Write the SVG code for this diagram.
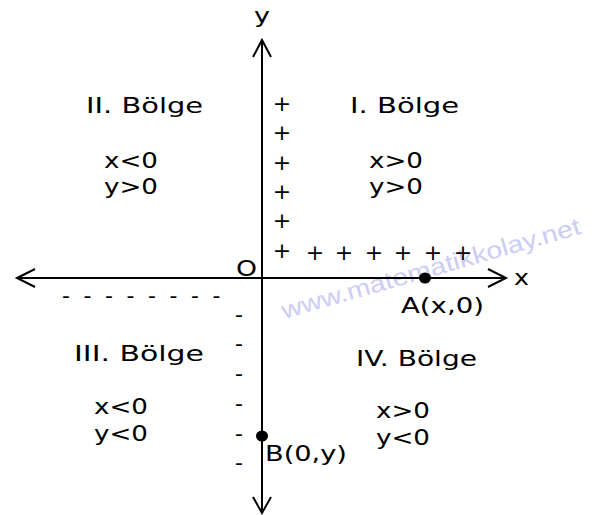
<svg xmlns="http://www.w3.org/2000/svg" width="606" height="515" viewBox="0 0 606 515">
<style>
.t{font-family:"DejaVu Sans",Verdana,sans-serif;font-size:21px;fill:#000}
.s{font-family:"DejaVu Sans",Verdana,sans-serif;font-size:22px;fill:#000;text-anchor:middle}
.ax{stroke:#000;stroke-width:2;fill:none}
.wm{font-family:"Liberation Sans",Arial,sans-serif;font-size:24px;fill:#c4c4f4;opacity:0.85}
</style>
<rect width="606" height="515" fill="#fff"/>
<g id="watermark">
<text class="wm" transform="translate(284,319) rotate(-16)" textLength="310" lengthAdjust="spacingAndGlyphs">www.matematikkolay.net</text>
</g>
<g id="axes">
<line class="ax" x1="262" y1="40" x2="262" y2="513"/>
<polyline class="ax" points="253,57 262,40 271,57"/>
<polyline class="ax" points="253,497 262,513 271,497"/>
<line class="ax" x1="17" y1="278" x2="506" y2="278"/>
<polyline class="ax" points="35,269 17,278 35,287"/>
<polyline class="ax" points="488,269 506,278 488,287"/>
</g>
<g id="axis-labels">
<text class="t" x="262" y="23" text-anchor="middle" textLength="16" lengthAdjust="spacingAndGlyphs">y</text>
<text class="t" x="514" y="285" textLength="15" lengthAdjust="spacingAndGlyphs">x</text>
<text class="t" x="236" y="276" textLength="21" lengthAdjust="spacingAndGlyphs">O</text>
</g>
<g id="q2">
<text class="t" x="86" y="113" textLength="117" lengthAdjust="spacingAndGlyphs">II. Bölge</text>
<text class="t" x="104" y="168" textLength="54" lengthAdjust="spacingAndGlyphs">x&lt;0</text>
<text class="t" x="104" y="194" textLength="54" lengthAdjust="spacingAndGlyphs">y&gt;0</text>
</g>
<g id="q1">
<text class="t" x="350" y="113" textLength="109" lengthAdjust="spacingAndGlyphs">I. Bölge</text>
<text class="t" x="369" y="168" textLength="54" lengthAdjust="spacingAndGlyphs">x&gt;0</text>
<text class="t" x="369" y="194" textLength="54" lengthAdjust="spacingAndGlyphs">y&gt;0</text>
</g>
<g id="q3">
<text class="t" x="74" y="361" textLength="130" lengthAdjust="spacingAndGlyphs">III. Bölge</text>
<text class="t" x="94" y="414" textLength="54" lengthAdjust="spacingAndGlyphs">x&lt;0</text>
<text class="t" x="94" y="441" textLength="54" lengthAdjust="spacingAndGlyphs">y&lt;0</text>
</g>
<g id="q4">
<text class="t" x="356" y="366" textLength="121" lengthAdjust="spacingAndGlyphs">IV. Bölge</text>
<text class="t" x="376" y="418" textLength="54" lengthAdjust="spacingAndGlyphs">x&gt;0</text>
<text class="t" x="376" y="445" textLength="54" lengthAdjust="spacingAndGlyphs">y&lt;0</text>
</g>
<g id="plus-y">
<text class="s" x="282" y="111">+</text>
<text class="s" x="282" y="140">+</text>
<text class="s" x="282" y="170">+</text>
<text class="s" x="282" y="199">+</text>
<text class="s" x="282" y="228">+</text>
<text class="s" x="282" y="258">+</text>
</g>
<g id="plus-x">
<text class="s" x="315" y="260">+</text>
<text class="s" x="344" y="260">+</text>
<text class="s" x="374" y="260">+</text>
<text class="s" x="403" y="260">+</text>
<text class="s" x="433" y="260">+</text>
<text class="s" x="463" y="260">+</text>
</g>
<g id="minus-x">
<text class="s" x="66" y="303">-</text>
<text class="s" x="87.5" y="303">-</text>
<text class="s" x="109" y="303">-</text>
<text class="s" x="130.5" y="303">-</text>
<text class="s" x="152" y="303">-</text>
<text class="s" x="173.5" y="303">-</text>
<text class="s" x="195" y="303">-</text>
<text class="s" x="216.5" y="303">-</text>
</g>
<g id="minus-y">
<text class="s" x="239" y="322">-</text>
<text class="s" x="239" y="351">-</text>
<text class="s" x="239" y="381">-</text>
<text class="s" x="239" y="411">-</text>
<text class="s" x="239" y="441">-</text>
<text class="s" x="239" y="470">-</text>
</g>
<g id="pointA">
<ellipse cx="425" cy="278" rx="6" ry="5.5" fill="#000"/>
<text class="t" x="401" y="313" textLength="83" lengthAdjust="spacingAndGlyphs">A(x,0)</text>
</g>
<g id="pointB">
<ellipse cx="262" cy="436" rx="6" ry="5.5" fill="#000"/>
<text class="t" x="265" y="461" textLength="82" lengthAdjust="spacingAndGlyphs">B(0,y)</text>
</g>
</svg>
